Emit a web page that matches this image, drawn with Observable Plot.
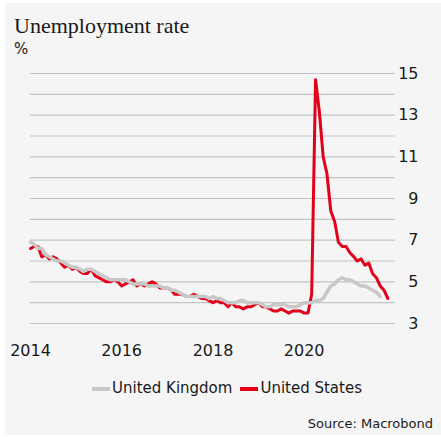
<!DOCTYPE html>
<html>
<head>
<meta charset="utf-8">
<script src="https://cdn.jsdelivr.net/npm/d3@7"></script>
<script src="https://cdn.jsdelivr.net/npm/@observablehq/plot@0.6"></script>
<style>
  html, body { margin: 0; padding: 0; background: #ffffff; }
  #panel { position: absolute; left: 5px; top: 3px; width: 436px; height: 432px; background: #f5f5f5; overflow: hidden; }
  .abs { position: absolute; white-space: nowrap; }
  #title { left: 9px; top: 11.6px; font-family: "Liberation Serif", serif; font-size: 22px; line-height: 22px; color: #1a1a1a; }
  #unit { left: 9px; top: 39.3px; font-family: "DejaVu Sans", sans-serif; font-size: 15px; line-height: 15px; color: #1a1a1a; }
  #chart { left: 0px; top: 59px; }
  #legend { left: 87px; top: 378.3px; display: flex; align-items: center; font-family: "DejaVu Sans", sans-serif; font-size: 15px; line-height: 15px; color: #1a1a1a; }
  .sw { display: inline-block; width: 18px; height: 4px; margin-right: 2px; }
  .item { display: flex; align-items: center; margin-right: 8px; }
  #caption { right: 8px; top: 414px; font-family: "DejaVu Sans", sans-serif; font-size: 13px; line-height: 13px; color: #1a1a1a; }
</style>
</head>
<body>
<div id="panel">
  <div id="title" class="abs">Unemployment rate</div>
  <div id="unit" class="abs">%</div>
  <div id="chart" class="abs"></div>
  <div id="legend" class="abs"></div>
  <div id="caption" class="abs">Source: Macrobond</div>
</div>
<script>
// Monthly unemployment rate, %, starting January 2014
const usRate = [
  6.6, 6.7, 6.7, 6.2, 6.3, 6.1, 6.2, 6.1, 5.9, 5.7, 5.8, 5.6,
  5.7, 5.5, 5.4, 5.4, 5.6, 5.3, 5.2, 5.1, 5.0, 5.0, 5.1, 5.0,
  4.8, 4.9, 5.0, 5.1, 4.8, 4.9, 4.8, 4.9, 5.0, 4.9, 4.7, 4.7,
  4.7, 4.6, 4.4, 4.4, 4.4, 4.3, 4.3, 4.4, 4.3, 4.2, 4.2, 4.1,
  4.0, 4.1, 4.0, 4.0, 3.8, 4.0, 3.8, 3.8, 3.7, 3.8, 3.8, 3.9,
  4.0, 3.8, 3.8, 3.7, 3.6, 3.6, 3.7, 3.6, 3.5, 3.6, 3.6, 3.6,
  3.5, 3.5, 4.4, 14.7, 13.2, 11.0, 10.2, 8.4, 7.9, 6.9, 6.7, 6.7,
  6.4, 6.2, 6.0, 6.1, 5.8, 5.9, 5.4, 5.2, 4.8, 4.6, 4.2
];
const ukRate = [
  6.9, 6.8, 6.6, 6.6, 6.3, 6.2, 6.1, 6.0, 6.0, 5.9, 5.8, 5.7,
  5.7, 5.6, 5.5, 5.6, 5.6, 5.5, 5.4, 5.3, 5.2, 5.1, 5.1, 5.1,
  5.1, 5.1, 5.0, 4.9, 4.9, 4.9, 4.9, 4.8, 4.8, 4.8, 4.8, 4.7,
  4.7, 4.6, 4.6, 4.5, 4.4, 4.3, 4.3, 4.3, 4.3, 4.3, 4.3, 4.2,
  4.3, 4.2, 4.2, 4.1, 4.0, 4.0, 4.0, 4.1, 4.1, 4.0, 4.0, 4.0,
  4.0, 3.9, 3.8, 3.8, 3.9, 3.9, 3.9, 3.9, 3.8, 3.8, 3.8, 3.9,
  4.0, 4.0, 4.0, 4.1, 4.1, 4.2, 4.5, 4.8, 4.9, 5.1, 5.2, 5.1,
  5.1, 5.0, 4.9, 4.8, 4.8, 4.7, 4.6, 4.5, 4.3
];
const seriesNames = ["United Kingdom", "United States"];
const seriesColors = ["#c8c8c8", "#e2001a"];
const yGridTicks = [3, 4, 5, 6, 7, 8, 9, 10, 11, 12, 13, 14, 15];
const yLabelTicks = [3, 5, 7, 9, 11, 13, 15];
const xTickYears = [2014, 2016, 2018, 2020];
const startYear = 2014;

const toRows = (arr, name) => arr.map((v, i) => ({
  date: new Date(Date.UTC(startYear, i, 1)),
  value: v,
  series: name
}));
const us = toRows(usRate, seriesNames[1]);
const uk = toRows(ukRate, seriesNames[0]);

const chart = Plot.plot({
  width: 436,
  height: 300,
  marginTop: 11,
  marginBottom: 39,
  marginLeft: 25,
  marginRight: 46,
  style: { fontFamily: "DejaVu Sans, sans-serif", fontSize: "16px", background: "transparent", color: "#1a1a1a" },
  x: { type: "utc", domain: [new Date(Date.UTC(2014, 0, 1)), new Date(Date.UTC(2022, 0, 1))] },
  y: { domain: [3, 15] },
  marks: [
    Plot.gridY(yGridTicks, { stroke: "#c4c4c4", strokeOpacity: 1, strokeWidth: 1.2 }),
    Plot.axisY(yLabelTicks, { anchor: "right", tickSize: 0, tickPadding: 23, textAnchor: "end", label: null, fontSize: 16 }),
    Plot.axisX(xTickYears.map(y => new Date(Date.UTC(y, 0, 1))), { tickSize: 0, tickPadding: 21, tickFormat: d3.utcFormat("%Y"), label: null, fontSize: 16 }),
    Plot.lineY(us, { x: "date", y: "value", stroke: seriesColors[1], strokeWidth: 3, strokeLinejoin: "round" }),
    Plot.lineY(uk, { x: "date", y: "value", stroke: seriesColors[0], strokeWidth: 3.5, strokeLinejoin: "round" })
  ]
});
document.getElementById("chart").appendChild(chart);

const legend = document.getElementById("legend");
seriesNames.forEach((name, i) => {
  const item = document.createElement("div");
  item.className = "item";
  const sw = document.createElement("span");
  sw.className = "sw";
  sw.style.background = seriesColors[i];
  const label = document.createElement("span");
  label.textContent = name;
  item.appendChild(sw);
  item.appendChild(label);
  legend.appendChild(item);
});
</script>
</body>
</html>
